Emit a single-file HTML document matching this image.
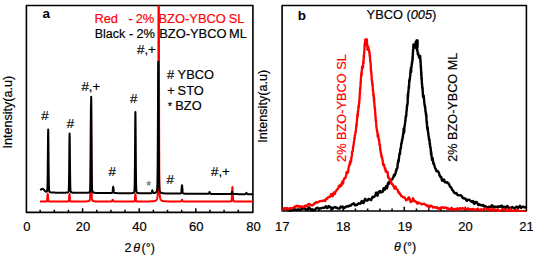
<!DOCTYPE html>
<html><head><meta charset="utf-8"><style>
html,body{margin:0;padding:0;background:#fff;width:533px;height:256px;overflow:hidden}
svg{display:block}
text{font-family:'Liberation Sans',sans-serif;stroke-width:0.18px}
</style></head><body>
<svg width="533" height="256" viewBox="0 0 533 256">
<rect width="533" height="256" fill="#fff"/>
<defs>
<clipPath id="ca"><rect x="26.4" y="5.5" width="226.6" height="207"/></clipPath>
<clipPath id="cb"><rect x="282.1" y="5.5" width="244.4" height="206.5"/></clipPath>
</defs>
<!-- Panel a -->
<path d="M40.15,212.4V209.80 M54.30,212.4V209.80 M68.45,212.4V209.80 M82.60,212.4V208.20 M96.75,212.4V209.80 M110.90,212.4V209.80 M125.05,212.4V209.80 M139.20,212.4V208.20 M153.35,212.4V209.80 M167.50,212.4V209.80 M181.65,212.4V209.80 M195.80,212.4V208.20 M209.95,212.4V209.80 M224.10,212.4V209.80 M238.25,212.4V209.80" stroke="#000" stroke-width="1.5" fill="none"/>
<rect x="26.4" y="5.5" width="226.5" height="206.9" fill="none" stroke="#000" stroke-width="1.6" stroke-linejoin="round"/>
<g clip-path="url(#ca)" fill="none" stroke-linejoin="round">
<polyline points="40.00,201.50 40.50,201.49 41.00,201.49 41.50,201.49 42.00,201.49 42.50,201.49 43.00,201.49 43.50,201.49 43.70,201.49 43.80,201.49 43.90,201.49 44.00,201.48 44.10,201.48 44.20,201.48 44.30,201.48 44.40,201.48 44.50,201.48 44.60,201.48 44.70,201.48 44.80,201.48 44.90,201.48 45.00,201.47 45.10,201.47 45.20,201.47 45.30,201.47 45.40,201.46 45.50,201.46 45.60,201.46 45.70,201.45 45.80,201.45 45.90,201.44 46.00,201.44 46.10,201.43 46.20,201.42 46.30,201.41 46.40,201.40 46.50,201.38 46.60,201.35 46.70,201.30 46.80,201.20 46.90,201.00 47.00,200.65 47.10,200.07 47.20,199.20 47.30,198.04 47.40,196.69 47.50,195.37 47.60,194.37 47.70,194.00 47.80,194.37 47.90,195.37 48.00,196.69 48.10,198.04 48.20,199.20 48.30,200.07 48.40,200.65 48.50,201.00 48.60,201.20 48.70,201.30 48.80,201.35 48.90,201.38 49.00,201.40 49.10,201.41 49.20,201.42 49.30,201.43 49.40,201.44 49.50,201.44 49.60,201.45 49.70,201.45 49.80,201.46 49.90,201.46 50.00,201.46 50.10,201.47 50.20,201.47 50.30,201.47 50.40,201.47 50.50,201.47 50.60,201.48 50.70,201.48 50.80,201.48 50.90,201.48 51.00,201.48 51.10,201.48 51.20,201.48 51.30,201.48 51.40,201.48 51.50,201.48 51.60,201.49 52.00,201.49 52.50,201.49 53.00,201.49 53.50,201.49 54.00,201.49 54.50,201.49 55.00,201.49 55.50,201.49 56.00,201.49 56.50,201.49 57.00,201.49 57.50,201.49 58.00,201.49 58.50,201.49 59.00,201.49 59.50,201.49 60.00,201.49 60.50,201.49 61.00,201.49 61.50,201.49 62.00,201.49 62.50,201.49 63.00,201.49 63.50,201.49 64.00,201.49 64.50,201.49 65.00,201.49 65.50,201.48 65.60,201.48 65.70,201.48 65.80,201.48 65.90,201.48 66.00,201.48 66.10,201.48 66.20,201.48 66.30,201.48 66.40,201.48 66.50,201.47 66.60,201.47 66.70,201.47 66.80,201.47 66.90,201.47 67.00,201.47 67.10,201.46 67.20,201.46 67.30,201.46 67.40,201.45 67.50,201.45 67.60,201.45 67.70,201.44 67.80,201.44 67.90,201.43 68.00,201.42 68.10,201.41 68.20,201.40 68.30,201.38 68.40,201.35 68.50,201.29 68.60,201.19 68.70,201.00 68.80,200.65 68.90,200.07 69.00,199.20 69.10,198.04 69.20,196.69 69.30,195.36 69.40,194.37 69.50,193.99 69.60,194.37 69.70,195.36 69.80,196.69 69.90,198.04 70.00,199.20 70.10,200.07 70.20,200.65 70.30,201.00 70.40,201.19 70.50,201.29 70.60,201.35 70.70,201.38 70.80,201.39 70.90,201.41 71.00,201.42 71.10,201.43 71.20,201.43 71.30,201.44 71.40,201.44 71.50,201.45 71.60,201.45 71.70,201.46 71.80,201.46 71.90,201.46 72.00,201.46 72.10,201.47 72.20,201.47 72.30,201.47 72.40,201.47 72.50,201.47 72.60,201.47 72.70,201.47 72.80,201.48 72.90,201.48 73.00,201.48 73.10,201.48 73.20,201.48 73.30,201.48 73.40,201.48 73.50,201.48 74.00,201.48 74.50,201.48 75.00,201.48 75.50,201.48 76.00,201.48 76.50,201.48 77.00,201.48 77.50,201.48 78.00,201.48 78.50,201.48 79.00,201.48 79.50,201.48 80.00,201.48 80.50,201.48 81.00,201.47 81.50,201.47 82.00,201.47 82.50,201.46 83.00,201.46 83.50,201.46 84.00,201.45 84.50,201.44 85.00,201.43 85.50,201.42 86.00,201.40 86.50,201.38 86.95,201.35 87.00,201.35 87.05,201.35 87.15,201.34 87.25,201.33 87.35,201.32 87.45,201.31 87.50,201.31 87.55,201.30 87.65,201.29 87.75,201.28 87.85,201.26 87.95,201.25 88.00,201.24 88.05,201.23 88.15,201.21 88.25,201.19 88.35,201.16 88.45,201.14 88.50,201.12 88.55,201.11 88.65,201.07 88.75,201.04 88.85,200.99 88.95,200.94 89.00,200.92 89.05,200.89 89.15,200.82 89.25,200.74 89.35,200.65 89.45,200.54 89.50,200.48 89.55,200.41 89.65,200.23 89.75,199.99 89.85,199.61 89.95,198.93 90.00,198.38 90.05,197.63 90.15,195.16 90.25,190.70 90.35,183.28 90.45,172.14 90.50,165.12 90.55,157.27 90.65,139.96 90.75,123.00 90.85,110.28 90.95,105.50 91.00,106.72 91.05,110.28 91.15,123.00 91.25,139.96 91.35,157.27 91.45,172.14 91.50,178.20 91.55,183.28 91.65,190.69 91.75,195.16 91.85,197.63 91.95,198.93 92.00,199.32 92.05,199.61 92.15,199.99 92.25,200.23 92.35,200.41 92.45,200.54 92.50,200.60 92.55,200.65 92.65,200.74 92.75,200.82 92.85,200.89 92.95,200.94 93.00,200.97 93.05,200.99 93.15,201.04 93.25,201.07 93.35,201.11 93.45,201.14 93.50,201.15 93.55,201.16 93.65,201.19 93.75,201.21 93.85,201.23 93.95,201.25 94.00,201.25 94.05,201.26 94.15,201.28 94.25,201.29 94.35,201.30 94.45,201.31 94.50,201.32 94.55,201.32 94.65,201.33 94.75,201.34 94.85,201.35 95.00,201.36 95.50,201.39 96.00,201.41 96.50,201.42 97.00,201.43 97.50,201.44 98.00,201.45 98.50,201.46 99.00,201.46 99.50,201.47 100.00,201.47 100.50,201.47 101.00,201.47 101.50,201.48 102.00,201.48 102.50,201.48 103.00,201.48 103.50,201.48 104.00,201.48 104.50,201.48 105.00,201.48 105.50,201.48 106.00,201.48 106.50,201.48 107.00,201.48 107.50,201.48 108.00,201.48 108.50,201.48 108.70,201.48 108.80,201.48 108.90,201.48 109.00,201.48 109.10,201.48 109.20,201.48 109.30,201.48 109.40,201.48 109.50,201.48 109.60,201.48 109.70,201.48 109.80,201.48 109.90,201.48 110.00,201.48 110.10,201.48 110.20,201.48 110.30,201.48 110.40,201.47 110.50,201.47 110.60,201.47 110.70,201.47 110.80,201.47 110.90,201.47 111.00,201.46 111.10,201.46 111.20,201.45 111.30,201.45 111.40,201.44 111.50,201.42 111.60,201.39 111.70,201.35 111.80,201.28 111.90,201.19 112.00,201.06 112.10,200.90 112.20,200.70 112.30,200.47 112.40,200.24 112.50,200.02 112.60,199.85 112.70,199.79 112.80,199.85 112.90,200.02 113.00,200.24 113.10,200.47 113.20,200.70 113.30,200.90 113.40,201.06 113.50,201.19 113.60,201.28 113.70,201.35 113.80,201.39 113.90,201.42 114.00,201.44 114.10,201.45 114.20,201.45 114.30,201.46 114.40,201.46 114.50,201.47 114.60,201.47 114.70,201.47 114.80,201.47 114.90,201.47 115.00,201.48 115.10,201.48 115.20,201.48 115.30,201.48 115.40,201.48 115.50,201.48 115.60,201.48 115.70,201.48 115.80,201.48 115.90,201.48 116.00,201.48 116.10,201.48 116.20,201.48 116.30,201.48 116.40,201.49 116.50,201.49 116.60,201.49 117.00,201.49 117.50,201.49 118.00,201.49 118.50,201.49 119.00,201.49 119.50,201.49 120.00,201.49 120.50,201.49 121.00,201.49 121.50,201.49 122.00,201.49 122.50,201.49 123.00,201.49 123.50,201.49 124.00,201.49 124.50,201.49 125.00,201.49 125.50,201.49 126.00,201.49 126.50,201.49 127.00,201.49 127.50,201.49 128.00,201.49 128.50,201.48 129.00,201.48 129.50,201.48 130.00,201.48 130.50,201.48 131.00,201.48 131.40,201.48 131.50,201.48 131.60,201.47 131.70,201.47 131.80,201.47 131.90,201.47 132.00,201.47 132.10,201.47 132.20,201.47 132.30,201.47 132.40,201.47 132.50,201.47 132.60,201.46 132.70,201.46 132.80,201.46 132.90,201.46 133.00,201.46 133.10,201.45 133.20,201.45 133.30,201.45 133.40,201.44 133.50,201.44 133.60,201.43 133.70,201.43 133.80,201.42 133.90,201.41 134.00,201.40 134.10,201.39 134.20,201.37 134.30,201.34 134.40,201.28 134.50,201.18 134.60,200.99 134.70,200.64 134.80,200.06 134.90,199.19 135.00,198.03 135.10,196.68 135.20,195.35 135.30,194.36 135.40,193.98 135.50,194.36 135.60,195.35 135.70,196.68 135.80,198.03 135.90,199.19 136.00,200.06 136.10,200.64 136.20,200.99 136.30,201.18 136.40,201.28 136.50,201.33 136.60,201.36 136.70,201.38 136.80,201.40 136.90,201.41 137.00,201.41 137.10,201.42 137.20,201.43 137.30,201.43 137.40,201.44 137.50,201.44 137.60,201.44 137.70,201.45 137.80,201.45 137.90,201.45 138.00,201.45 138.10,201.45 138.20,201.46 138.30,201.46 138.40,201.46 138.50,201.46 138.60,201.46 138.70,201.46 138.80,201.46 138.90,201.46 139.00,201.46 139.10,201.46 139.20,201.46 139.30,201.46 139.50,201.47 140.00,201.47 140.50,201.47 141.00,201.47 141.50,201.47 142.00,201.46 142.50,201.46 143.00,201.46 143.50,201.46 144.00,201.46 144.50,201.46 145.00,201.45 145.50,201.45 146.00,201.45 146.50,201.44 147.00,201.44 147.50,201.43 148.00,201.42 148.50,201.42 149.00,201.41 149.50,201.40 150.00,201.39 150.50,201.37 151.00,201.36 151.50,201.34 152.00,201.31 152.50,201.28 153.00,201.24 153.50,201.19 154.00,201.12 154.50,201.03 154.70,200.98 154.80,200.95 154.90,200.93 155.00,200.89 155.10,200.86 155.20,200.82 155.30,200.78 155.40,200.74 155.50,200.69 155.60,200.64 155.70,200.59 155.80,200.52 155.90,200.45 156.00,200.38 156.10,200.29 156.20,200.19 156.30,200.09 156.40,199.96 156.50,199.83 156.60,199.67 156.70,199.49 156.80,199.28 156.90,199.04 157.00,198.76 157.10,198.42 157.20,198.03 157.30,197.55 157.40,196.98 157.50,196.27 157.60,195.38 157.70,194.23 157.80,192.59 157.90,189.91 158.00,184.79 158.10,174.33 158.20,153.91 158.30,118.68 158.40,67.68 158.50,8.74 158.60,-40.53 158.70,-60.00 158.80,-40.53 158.90,8.74 159.00,67.68 159.10,118.68 159.20,153.91 159.30,174.33 159.40,184.79 159.50,189.91 159.60,192.59 159.70,194.23 159.80,195.38 159.90,196.27 160.00,196.98 160.10,197.55 160.20,198.03 160.30,198.42 160.40,198.76 160.50,199.04 160.60,199.28 160.70,199.49 160.80,199.67 160.90,199.83 161.00,199.96 161.10,200.09 161.20,200.19 161.30,200.29 161.40,200.38 161.50,200.45 161.60,200.52 161.70,200.59 161.80,200.64 161.90,200.69 162.00,200.74 162.10,200.78 162.20,200.82 162.30,200.86 162.40,200.89 162.50,200.93 162.60,200.95 163.00,201.05 163.50,201.14 164.00,201.20 164.50,201.25 165.00,201.29 165.50,201.32 166.00,201.34 166.50,201.36 167.00,201.38 167.50,201.39 168.00,201.40 168.50,201.41 169.00,201.42 169.50,201.43 170.00,201.43 170.50,201.44 171.00,201.44 171.50,201.45 172.00,201.45 172.50,201.45 173.00,201.46 173.50,201.46 174.00,201.46 174.50,201.46 175.00,201.47 175.50,201.47 176.00,201.47 176.50,201.47 177.00,201.47 177.50,201.47 178.00,201.47 178.10,201.47 178.20,201.47 178.30,201.47 178.40,201.47 178.50,201.47 178.60,201.47 178.70,201.47 178.80,201.47 178.90,201.47 179.00,201.47 179.10,201.47 179.20,201.47 179.30,201.47 179.40,201.47 179.50,201.47 179.60,201.47 179.70,201.47 179.80,201.46 179.90,201.46 180.00,201.46 180.10,201.46 180.20,201.46 180.30,201.45 180.40,201.45 180.50,201.45 180.60,201.44 180.70,201.43 180.80,201.41 180.90,201.38 181.00,201.34 181.10,201.27 181.20,201.18 181.30,201.05 181.40,200.89 181.50,200.69 181.60,200.47 181.70,200.23 181.80,200.01 181.90,199.85 182.00,199.78 182.10,199.85 182.20,200.01 182.30,200.23 182.40,200.47 182.50,200.69 182.60,200.89 182.70,201.05 182.80,201.18 182.90,201.28 183.00,201.34 183.10,201.38 183.20,201.41 183.30,201.43 183.40,201.44 183.50,201.45 183.60,201.45 183.70,201.46 183.80,201.46 183.90,201.46 184.00,201.47 184.10,201.47 184.20,201.47 184.30,201.47 184.40,201.47 184.50,201.47 184.60,201.48 184.70,201.48 184.80,201.48 184.90,201.48 185.00,201.48 185.10,201.48 185.20,201.48 185.30,201.48 185.40,201.48 185.50,201.48 185.60,201.48 185.70,201.48 185.80,201.48 185.90,201.48 186.00,201.48 186.50,201.48 187.00,201.49 187.50,201.49 188.00,201.49 188.50,201.49 189.00,201.49 189.50,201.49 190.00,201.49 190.50,201.49 191.00,201.49 191.50,201.49 192.00,201.49 192.50,201.49 193.00,201.49 193.50,201.49 194.00,201.49 194.50,201.49 195.00,201.49 195.50,201.49 196.00,201.49 196.50,201.49 197.00,201.49 197.50,201.49 198.00,201.49 198.50,201.49 199.00,201.49 199.50,201.49 200.00,201.49 200.50,201.49 201.00,201.49 201.50,201.49 202.00,201.49 202.50,201.49 203.00,201.49 203.50,201.49 204.00,201.49 204.50,201.50 205.00,201.50 205.50,201.50 206.00,201.50 206.50,201.50 207.00,201.50 207.50,201.50 208.00,201.50 208.50,201.50 209.00,201.50 209.50,201.50 210.00,201.50 210.50,201.50 211.00,201.50 211.50,201.50 212.00,201.50 212.50,201.50 213.00,201.50 213.50,201.50 214.00,201.50 214.50,201.50 215.00,201.50 215.50,201.50 216.00,201.50 216.50,201.50 217.00,201.50 217.50,201.50 218.00,201.50 218.50,201.50 219.00,201.49 219.50,201.49 220.00,201.49 220.50,201.49 221.00,201.49 221.50,201.49 222.00,201.49 222.50,201.49 223.00,201.49 223.50,201.49 224.00,201.49 224.50,201.49 225.00,201.49 225.50,201.49 226.00,201.49 226.50,201.48 227.00,201.48 227.50,201.48 228.00,201.47 228.40,201.47 228.50,201.47 228.60,201.47 228.70,201.46 228.80,201.46 228.90,201.46 229.00,201.46 229.10,201.46 229.20,201.45 229.30,201.45 229.40,201.45 229.50,201.44 229.60,201.44 229.70,201.44 229.80,201.43 229.90,201.43 230.00,201.42 230.10,201.41 230.20,201.41 230.30,201.40 230.40,201.39 230.50,201.38 230.60,201.36 230.70,201.35 230.80,201.33 230.90,201.31 231.00,201.28 231.10,201.24 231.20,201.17 231.30,201.07 231.40,200.89 231.50,200.57 231.60,200.03 231.70,199.17 231.80,197.88 231.90,196.14 232.00,193.98 232.10,191.62 232.20,189.38 232.30,187.72 232.40,187.10 232.50,187.72 232.60,189.38 232.70,191.62 232.80,193.98 232.90,196.14 233.00,197.88 233.10,199.17 233.20,200.03 233.30,200.57 233.40,200.89 233.50,201.07 233.60,201.17 233.70,201.24 233.80,201.28 233.90,201.31 234.00,201.33 234.10,201.35 234.20,201.36 234.30,201.38 234.40,201.39 234.50,201.40 234.60,201.41 234.70,201.41 234.80,201.42 234.90,201.43 235.00,201.43 235.10,201.44 235.20,201.44 235.30,201.44 235.40,201.45 235.50,201.45 235.60,201.45 235.70,201.46 235.80,201.46 235.90,201.46 236.00,201.46 236.10,201.47 236.20,201.47 236.30,201.47 236.50,201.47 237.00,201.48 237.50,201.48 238.00,201.48 238.50,201.49 239.00,201.49 239.50,201.49 240.00,201.49 240.50,201.49 241.00,201.49 241.50,201.49 242.00,201.49 242.50,201.49 243.00,201.49 243.50,201.49 244.00,201.50 244.50,201.50 245.00,201.50 245.50,201.50 246.00,201.50 246.50,201.50 247.00,201.50 247.50,201.50 248.00,201.50 248.50,201.50 249.00,201.50 249.50,201.50 250.00,201.50 250.50,201.50 251.00,201.50 251.50,201.50 252.00,201.50 252.50,201.50 253.00,201.50 253.50,201.50" stroke="#f00" stroke-width="2"/>
<polyline points="40.30,190.32 40.80,189.82 41.30,189.32 41.80,189.01 42.30,188.82 42.80,188.88 43.30,189.30 43.80,189.72 44.20,190.11 44.30,190.22 44.40,190.32 44.50,190.43 44.60,190.54 44.70,190.65 44.80,190.76 44.90,190.86 45.00,190.97 45.10,191.07 45.20,191.18 45.30,191.28 45.40,191.38 45.50,191.48 45.60,191.52 45.70,191.55 45.80,191.58 45.90,191.61 46.00,191.64 46.10,191.66 46.20,191.68 46.30,191.69 46.40,191.70 46.50,191.70 46.60,191.68 46.70,191.64 46.80,191.60 46.90,191.52 47.00,191.41 47.10,191.20 47.20,190.79 47.30,189.98 47.40,188.40 47.50,185.51 47.60,180.64 47.70,173.33 47.80,163.57 47.90,152.21 48.00,141.08 48.10,132.73 48.20,129.59 48.30,132.73 48.40,141.09 48.50,152.22 48.60,163.58 48.70,173.34 48.80,180.65 48.90,185.52 49.00,188.45 49.10,190.07 49.20,190.92 49.30,191.37 49.40,191.62 49.50,191.78 49.60,191.90 49.70,191.99 49.80,192.06 49.90,192.12 50.00,192.17 50.10,192.22 50.20,192.26 50.30,192.29 50.40,192.32 50.50,192.34 50.60,192.37 50.70,192.39 50.80,192.41 50.90,192.42 51.00,192.44 51.10,192.45 51.20,192.46 51.30,192.47 51.40,192.48 51.50,192.49 51.60,192.50 51.70,192.51 51.80,192.52 51.90,192.52 52.00,192.53 52.10,192.54 52.30,192.55 52.80,192.57 53.30,192.58 53.80,192.60 54.30,192.61 54.80,192.62 55.30,192.63 55.80,192.63 56.30,192.64 56.80,192.65 57.30,192.65 57.80,192.66 58.30,192.66 58.80,192.67 59.30,192.67 59.80,192.67 60.30,192.68 60.80,192.68 61.30,192.68 61.80,192.68 62.30,192.68 62.80,192.68 63.30,192.68 63.80,192.68 64.30,192.68 64.80,192.67 65.30,192.66 65.60,192.65 65.70,192.65 65.80,192.64 65.90,192.64 66.00,192.63 66.10,192.63 66.20,192.62 66.30,192.62 66.40,192.61 66.50,192.60 66.60,192.59 66.70,192.58 66.80,192.57 66.90,192.56 67.00,192.54 67.10,192.53 67.20,192.51 67.30,192.49 67.40,192.47 67.50,192.44 67.60,192.41 67.70,192.38 67.80,192.34 67.90,192.29 68.00,192.24 68.10,192.17 68.20,192.09 68.30,191.98 68.40,191.83 68.50,191.60 68.60,191.18 68.70,190.37 68.80,188.85 68.90,186.10 69.00,181.51 69.10,174.64 69.20,165.46 69.30,154.77 69.40,144.30 69.50,136.44 69.60,133.49 69.70,136.44 69.80,144.30 69.90,154.77 70.00,165.46 70.10,174.64 70.20,181.52 70.30,186.11 70.40,188.86 70.50,190.39 70.60,191.19 70.70,191.61 70.80,191.85 70.90,192.00 71.00,192.11 71.10,192.19 71.20,192.26 71.30,192.32 71.40,192.37 71.50,192.41 71.60,192.44 71.70,192.48 71.80,192.50 71.90,192.53 72.00,192.55 72.10,192.57 72.20,192.59 72.30,192.60 72.40,192.61 72.50,192.63 72.60,192.64 72.70,192.65 72.80,192.66 72.90,192.67 73.00,192.68 73.10,192.68 73.20,192.69 73.30,192.70 73.40,192.70 73.50,192.71 73.80,192.72 74.30,192.74 74.80,192.76 75.30,192.77 75.80,192.78 76.30,192.79 76.80,192.80 77.30,192.80 77.80,192.81 78.30,192.81 78.80,192.82 79.30,192.82 79.80,192.83 80.30,192.83 80.80,192.83 81.30,192.84 81.80,192.84 82.30,192.84 82.80,192.84 83.30,192.84 83.80,192.84 84.30,192.84 84.80,192.84 85.30,192.83 85.80,192.82 86.30,192.81 86.80,192.79 87.20,192.77 87.30,192.76 87.40,192.76 87.50,192.75 87.60,192.74 87.70,192.73 87.80,192.72 87.90,192.71 88.00,192.70 88.10,192.68 88.20,192.67 88.30,192.65 88.40,192.64 88.50,192.61 88.60,192.59 88.70,192.57 88.80,192.54 88.90,192.50 89.00,192.47 89.10,192.42 89.20,192.38 89.30,192.32 89.40,192.25 89.50,192.18 89.60,192.08 89.70,191.98 89.80,191.84 89.90,191.67 90.00,191.43 90.10,191.05 90.20,190.36 90.30,189.06 90.40,186.59 90.50,182.12 90.60,174.69 90.70,163.53 90.80,148.64 90.90,131.31 91.00,114.33 91.10,101.58 91.20,96.79 91.30,101.58 91.40,114.33 91.50,131.31 91.60,148.65 91.70,163.54 91.80,174.70 91.90,182.13 92.00,186.60 92.10,189.08 92.20,190.38 92.30,191.06 92.40,191.45 92.50,191.69 92.60,191.86 92.70,192.00 92.80,192.11 92.90,192.20 93.00,192.28 93.10,192.35 93.20,192.41 93.30,192.46 93.40,192.50 93.50,192.54 93.60,192.58 93.70,192.61 93.80,192.63 93.90,192.66 94.00,192.68 94.10,192.70 94.20,192.72 94.30,192.74 94.40,192.75 94.50,192.76 94.60,192.78 94.70,192.79 94.80,192.80 94.90,192.81 95.00,192.82 95.10,192.83 95.30,192.84 95.80,192.88 96.30,192.90 96.80,192.92 97.30,192.93 97.80,192.95 98.30,192.96 98.80,192.97 99.30,192.98 99.80,192.98 100.30,192.99 100.80,193.00 101.30,193.00 101.80,193.01 102.30,193.02 102.80,193.02 103.30,193.03 103.80,193.03 104.30,193.04 104.80,193.04 105.30,193.04 105.80,193.05 106.30,193.05 106.80,193.06 107.30,193.06 107.80,193.06 108.30,193.06 108.80,193.06 109.20,193.06 109.30,193.06 109.40,193.06 109.50,193.06 109.60,193.06 109.70,193.06 109.80,193.06 109.90,193.06 110.00,193.06 110.10,193.06 110.20,193.06 110.30,193.06 110.40,193.06 110.50,193.05 110.60,193.05 110.70,193.05 110.80,193.05 110.90,193.04 111.00,193.04 111.10,193.03 111.20,193.03 111.30,193.02 111.40,193.01 111.50,193.00 111.60,192.99 111.70,192.98 111.80,192.96 111.90,192.94 112.00,192.90 112.10,192.85 112.20,192.77 112.30,192.62 112.40,192.39 112.50,192.02 112.60,191.48 112.70,190.74 112.80,189.83 112.90,188.81 113.00,187.82 113.10,187.07 113.20,186.79 113.30,187.07 113.40,187.82 113.50,188.81 113.60,189.83 113.70,190.75 113.80,191.49 113.90,192.03 114.00,192.40 114.10,192.64 114.20,192.78 114.30,192.87 114.40,192.92 114.50,192.96 114.60,192.98 114.70,193.00 114.80,193.02 114.90,193.03 115.00,193.04 115.10,193.05 115.20,193.06 115.30,193.07 115.40,193.07 115.50,193.08 115.60,193.08 115.70,193.09 115.80,193.09 115.90,193.10 116.00,193.10 116.10,193.10 116.20,193.11 116.30,193.11 116.40,193.11 116.50,193.11 116.60,193.12 116.70,193.12 116.80,193.12 116.90,193.12 117.00,193.13 117.10,193.13 117.30,193.13 117.80,193.14 118.30,193.14 118.80,193.15 119.30,193.15 119.80,193.16 120.30,193.16 120.80,193.17 121.30,193.17 121.80,193.18 122.30,193.18 122.80,193.18 123.30,193.19 123.80,193.19 124.30,193.19 124.80,193.19 125.30,193.20 125.80,193.20 126.30,193.20 126.80,193.20 127.30,193.20 127.80,193.20 128.30,193.20 128.80,193.20 129.30,193.19 129.80,193.19 130.30,193.18 130.80,193.17 131.30,193.15 131.40,193.14 131.50,193.14 131.60,193.13 131.70,193.12 131.80,193.12 131.90,193.11 132.00,193.10 132.10,193.09 132.20,193.08 132.30,193.07 132.40,193.06 132.50,193.04 132.60,193.03 132.70,193.01 132.80,192.99 132.90,192.97 133.00,192.95 133.10,192.92 133.20,192.89 133.30,192.85 133.40,192.81 133.50,192.76 133.60,192.71 133.70,192.64 133.80,192.56 133.90,192.47 134.00,192.36 134.10,192.21 134.20,192.01 134.30,191.68 134.40,191.11 134.50,190.01 134.60,187.92 134.70,184.14 134.80,177.85 134.90,168.42 135.00,155.83 135.10,141.17 135.20,126.81 135.30,116.03 135.40,111.98 135.50,116.03 135.60,126.81 135.70,141.18 135.80,155.84 135.90,168.43 136.00,177.86 136.10,184.15 136.20,187.93 136.30,190.02 136.40,191.12 136.50,191.70 136.60,192.02 136.70,192.23 136.80,192.38 136.90,192.49 137.00,192.59 137.10,192.66 137.20,192.73 137.30,192.79 137.40,192.84 137.50,192.88 137.60,192.92 137.70,192.95 137.80,192.98 137.90,193.00 138.00,193.03 138.10,193.05 138.20,193.07 138.30,193.08 138.40,193.10 138.50,193.11 138.60,193.13 138.70,193.14 138.80,193.15 138.90,193.16 139.00,193.17 139.10,193.18 139.20,193.18 139.30,193.19 139.80,193.22 140.30,193.24 140.80,193.26 141.30,193.27 141.80,193.28 142.30,193.29 142.80,193.30 143.30,193.31 143.80,193.31 144.30,193.32 144.80,193.32 145.30,193.32 145.80,193.33 146.30,193.33 146.80,193.33 147.30,193.33 147.80,193.33 148.30,193.33 148.40,193.32 148.50,193.32 148.60,193.32 148.70,193.32 148.80,193.32 148.90,193.32 149.00,193.32 149.10,193.32 149.20,193.32 149.30,193.31 149.40,193.31 149.50,193.31 149.60,193.31 149.70,193.30 149.80,193.30 149.90,193.30 150.00,193.30 150.10,193.29 150.20,193.29 150.30,193.28 150.40,193.28 150.50,193.27 150.60,193.27 150.70,193.26 150.80,193.25 150.90,193.23 151.00,193.21 151.10,193.18 151.20,193.12 151.30,193.05 151.40,192.93 151.50,192.77 151.60,192.54 151.70,192.25 151.80,191.91 151.90,191.51 152.00,191.10 152.10,190.72 152.20,190.43 152.30,190.32 152.40,190.42 152.50,190.70 152.60,191.07 152.70,191.47 152.80,191.86 152.90,192.19 153.00,192.47 153.10,192.68 153.20,192.84 153.30,192.94 153.40,193.01 153.50,193.05 153.60,193.07 153.70,193.07 153.80,193.07 153.90,193.07 154.00,193.06 154.10,193.05 154.20,193.04 154.30,193.03 154.40,193.01 154.50,192.99 154.60,192.97 154.70,192.95 154.80,192.92 154.90,192.90 155.00,192.87 155.10,192.83 155.20,192.80 155.30,192.75 155.40,192.71 155.50,192.66 155.60,192.60 155.70,192.54 155.80,192.47 155.90,192.39 156.00,192.30 156.10,192.19 156.20,192.08 156.30,191.94 156.40,191.78 156.50,191.60 156.60,191.39 156.70,191.14 156.80,190.83 156.90,190.45 157.00,189.94 157.10,189.23 157.20,188.13 157.30,186.33 157.40,183.35 157.50,178.45 157.60,170.76 157.70,159.48 157.80,144.15 157.90,125.12 158.00,103.88 158.10,83.32 158.20,67.73 158.30,61.79 158.40,67.73 158.50,83.32 158.60,103.89 158.70,125.12 158.80,144.16 158.90,159.49 159.00,170.78 159.10,178.46 159.20,183.36 159.30,186.35 159.40,188.15 159.50,189.25 159.60,189.97 159.70,190.48 159.80,190.86 159.90,191.17 160.00,191.42 160.10,191.64 160.20,191.82 160.30,191.98 160.40,192.12 160.50,192.24 160.60,192.34 160.70,192.43 160.80,192.52 160.90,192.59 161.00,192.66 161.10,192.72 161.20,192.77 161.30,192.82 161.40,192.86 161.50,192.90 161.60,192.94 161.70,192.97 161.80,193.00 161.90,193.03 162.00,193.06 162.10,193.08 162.20,193.10 162.30,193.13 162.80,193.21 163.30,193.27 163.80,193.32 164.30,193.36 164.80,193.39 165.30,193.41 165.80,193.43 166.30,193.45 166.80,193.47 167.30,193.48 167.80,193.49 168.30,193.50 168.80,193.51 169.30,193.52 169.80,193.53 170.30,193.54 170.80,193.54 171.30,193.55 171.80,193.56 172.30,193.56 172.80,193.57 173.30,193.57 173.80,193.58 174.30,193.58 174.80,193.59 175.30,193.59 175.80,193.60 176.30,193.60 176.80,193.60 177.30,193.60 177.80,193.61 178.00,193.60 178.10,193.60 178.20,193.60 178.30,193.60 178.40,193.60 178.50,193.60 178.60,193.60 178.70,193.60 178.80,193.60 178.90,193.60 179.00,193.60 179.10,193.59 179.20,193.59 179.30,193.59 179.40,193.58 179.50,193.58 179.60,193.58 179.70,193.57 179.80,193.57 179.90,193.56 180.00,193.55 180.10,193.54 180.20,193.53 180.30,193.52 180.40,193.50 180.50,193.48 180.60,193.46 180.70,193.42 180.80,193.35 180.90,193.26 181.00,193.10 181.10,192.84 181.20,192.45 181.30,191.88 181.40,191.10 181.50,190.11 181.60,188.95 181.70,187.70 181.80,186.51 181.90,185.62 182.00,185.29 182.10,185.63 182.20,186.52 182.30,187.70 182.40,188.96 182.50,190.12 182.60,191.11 182.70,191.89 182.80,192.46 182.90,192.86 183.00,193.11 183.10,193.28 183.20,193.38 183.30,193.44 183.40,193.48 183.50,193.51 183.60,193.53 183.70,193.55 183.80,193.56 183.90,193.58 184.00,193.59 184.10,193.60 184.20,193.61 184.30,193.61 184.40,193.62 184.50,193.63 184.60,193.63 184.70,193.64 184.80,193.64 184.90,193.65 185.00,193.65 185.10,193.65 185.20,193.66 185.30,193.66 185.40,193.66 185.50,193.67 185.60,193.67 185.70,193.67 185.80,193.67 185.90,193.68 186.30,193.68 186.80,193.69 187.30,193.70 187.80,193.71 188.30,193.71 188.80,193.72 189.30,193.72 189.80,193.73 190.30,193.73 190.80,193.74 191.30,193.74 191.80,193.75 192.30,193.75 192.80,193.76 193.30,193.76 193.80,193.76 194.30,193.77 194.80,193.77 195.30,193.78 195.80,193.78 196.30,193.79 196.80,193.79 197.30,193.79 197.80,193.80 198.30,193.80 198.80,193.81 199.30,193.81 199.80,193.82 200.30,193.82 200.80,193.82 201.30,193.83 201.80,193.83 202.30,193.84 202.80,193.84 203.30,193.84 203.80,193.85 204.30,193.85 204.80,193.85 205.30,193.86 205.50,193.86 205.60,193.86 205.70,193.86 205.80,193.86 205.90,193.86 206.00,193.86 206.10,193.86 206.20,193.86 206.30,193.86 206.40,193.86 206.50,193.86 206.60,193.86 206.70,193.86 206.80,193.86 206.90,193.86 207.00,193.86 207.10,193.86 207.20,193.86 207.30,193.86 207.40,193.86 207.50,193.86 207.60,193.86 207.70,193.85 207.80,193.85 207.90,193.85 208.00,193.84 208.10,193.84 208.20,193.82 208.30,193.80 208.40,193.77 208.50,193.73 208.60,193.65 208.70,193.55 208.80,193.41 208.90,193.23 209.00,193.01 209.10,192.76 209.20,192.49 209.30,192.25 209.40,192.07 209.50,192.00 209.60,192.07 209.70,192.25 209.80,192.50 209.90,192.76 210.00,193.01 210.10,193.24 210.20,193.42 210.30,193.56 210.40,193.67 210.50,193.74 210.60,193.79 210.70,193.82 210.80,193.85 210.90,193.86 211.00,193.87 211.10,193.87 211.20,193.88 211.30,193.88 211.40,193.89 211.50,193.89 211.60,193.89 211.70,193.90 211.80,193.90 211.90,193.90 212.00,193.90 212.10,193.90 212.20,193.91 212.30,193.91 212.40,193.91 212.50,193.91 212.60,193.91 212.70,193.91 212.80,193.91 212.90,193.92 213.00,193.92 213.10,193.92 213.20,193.92 213.30,193.92 213.40,193.92 213.80,193.93 214.30,193.93 214.80,193.94 215.30,193.94 215.80,193.94 216.30,193.95 216.80,193.95 217.30,193.96 217.80,193.96 218.30,193.97 218.80,193.97 219.30,193.97 219.80,193.98 220.30,193.98 220.80,193.99 221.30,193.99 221.80,193.99 222.30,194.00 222.80,194.00 223.30,194.01 223.80,194.01 224.30,194.01 224.80,194.02 225.30,194.02 225.80,194.03 226.30,194.03 226.80,194.03 227.30,194.04 227.80,194.04 228.00,194.04 228.10,194.04 228.20,194.04 228.30,194.04 228.40,194.04 228.50,194.04 228.60,194.04 228.70,194.04 228.80,194.04 228.90,194.04 229.00,194.04 229.10,194.04 229.20,194.04 229.30,194.04 229.40,194.04 229.50,194.04 229.60,194.04 229.70,194.04 229.80,194.04 229.90,194.04 230.00,194.04 230.10,194.04 230.20,194.03 230.30,194.03 230.40,194.03 230.50,194.02 230.60,194.01 230.70,194.00 230.80,193.98 230.90,193.95 231.00,193.89 231.10,193.81 231.20,193.70 231.30,193.55 231.40,193.35 231.50,193.10 231.60,192.83 231.70,192.54 231.80,192.27 231.90,192.07 232.00,192.00 232.10,192.08 232.20,192.28 232.30,192.55 232.40,192.84 232.50,193.11 232.60,193.35 232.70,193.56 232.80,193.71 232.90,193.83 233.00,193.91 233.10,193.96 233.20,194.00 233.30,194.02 233.40,194.04 233.50,194.05 233.60,194.05 233.70,194.06 233.80,194.06 233.90,194.07 234.00,194.07 234.10,194.07 234.20,194.08 234.30,194.08 234.40,194.08 234.50,194.08 234.60,194.08 234.70,194.09 234.80,194.09 234.90,194.09 235.00,194.09 235.10,194.09 235.20,194.09 235.30,194.10 235.40,194.10 235.50,194.10 235.60,194.10 235.70,194.10 235.80,194.10 235.90,194.10 236.30,194.11 236.80,194.11 237.30,194.12 237.80,194.12 238.30,194.13 238.80,194.13 239.30,194.13 239.80,194.14 240.30,194.14 240.80,194.15 241.30,194.15 241.80,194.15 242.30,194.16 242.40,194.16 242.50,194.16 242.60,194.16 242.70,194.16 242.80,194.16 242.90,194.16 243.00,194.16 243.10,194.16 243.20,194.16 243.30,194.16 243.40,194.16 243.50,194.16 243.60,194.16 243.70,194.16 243.80,194.16 243.90,194.16 244.00,194.16 244.10,194.16 244.20,194.16 244.30,194.16 244.40,194.16 244.50,194.16 244.60,194.16 244.70,194.16 244.80,194.15 244.90,194.15 245.00,194.15 245.10,194.14 245.20,194.12 245.30,194.10 245.40,194.07 245.50,194.01 245.60,193.94 245.70,193.83 245.80,193.70 245.90,193.54 246.00,193.35 246.10,193.16 246.20,192.98 246.30,192.85 246.40,192.80 246.50,192.85 246.60,192.99 246.70,193.17 246.80,193.36 246.90,193.55 247.00,193.71 247.10,193.85 247.20,193.95 247.30,194.03 247.40,194.08 247.50,194.12 247.60,194.14 247.70,194.16 247.80,194.17 247.90,194.18 248.00,194.18 248.10,194.18 248.20,194.19 248.30,194.19 248.40,194.19 248.50,194.20 248.60,194.20 248.70,194.20 248.80,194.20 248.90,194.20 249.00,194.20 249.10,194.21 249.20,194.21 249.30,194.21 249.40,194.21 249.50,194.21 249.60,194.21 249.70,194.21 249.80,194.22 249.90,194.22 250.00,194.22 250.10,194.22 250.20,194.22 250.30,194.22 250.80,194.23 251.30,194.23 251.80,194.23 252.30,194.24 252.80,194.24 253.30,194.25 253.80,194.25" stroke="#000" stroke-width="2"/>
</g>
<text x="42.6" y="18.3" font-size="13.5" font-weight="bold">a</text>
<g font-size="12.8">
<g fill="#f00" stroke="#f00" font-size="12.9">
<text x="94.4" y="22.8">Red</text>
<text x="128.5" y="22.8">-</text>
<text x="135.7" y="22.8">2%</text>
<text x="158.5" y="22.8">BZO-YBCO</text>
<text x="228.7" y="22.8">SL</text>
</g>
<g fill="#000" stroke="#000">
<text x="94.7" y="38" font-size="12.5">Black</text>
<text x="128.9" y="38">-</text>
<text x="136.5" y="38">2%</text>
<text x="159.2" y="38" font-size="12.9">BZO-YBCO</text>
<text x="229.1" y="38">ML</text>
<text x="137" y="53.6" font-size="13.3">#,+</text>
<text x="167" y="78.8">#</text><text x="177.6" y="78.8">YBCO</text>
<text x="167.3" y="94.5">+</text><text x="177.6" y="94.5">STO</text>
<text x="167.8" y="110.1" font-size="11">*</text><text x="175.3" y="110.1">BZO</text>
<g font-size="13.3">
<text x="41.2" y="119.7">#</text>
<text x="66.8" y="127.6">#</text>
<text x="81.4" y="90.9">#,+</text>
<text x="130.1" y="102.6">#</text>
<text x="108.5" y="175.5">#</text>
<text x="166.6" y="184.3">#</text>
<text x="211.0" y="175.7">#,+</text>
</g>
</g>
</g>
<text x="146.2" y="190" font-size="12.5" fill="#666" stroke="#666">*</text>
<g font-size="13" text-anchor="middle" stroke="#000" stroke-width="0.15">
<text x="26.9" y="231.0">0</text>
<text x="83.0" y="231.0">20</text>
<text x="139.6" y="231.0">40</text>
<text x="196.2" y="231.0">60</text>
<text x="253.5" y="231.0">80</text>
</g>
<g font-size="12.5" stroke="#000"><text x="124.4" y="251.6">2</text><text x="133.3" y="251.6" font-style="italic" stroke-width="0.1">θ</text><text x="141.6" y="251.6">(°)</text></g>
<text transform="translate(11.7,148.6) rotate(-90)" font-size="12.6" stroke="#000" stroke-width="0.12">Intensity(a.u)</text>

<!-- Panel b -->
<path d="M294.32,211.0V208.40 M306.54,211.0V208.40 M318.76,211.0V208.40 M330.98,211.0V208.40 M343.20,211.0V206.80 M355.42,211.0V208.40 M367.64,211.0V208.40 M379.86,211.0V208.40 M392.08,211.0V208.40 M404.30,211.0V206.80 M416.52,211.0V208.40 M428.74,211.0V208.40 M440.96,211.0V208.40 M453.18,211.0V208.40 M465.40,211.0V206.80 M477.62,211.0V208.40 M489.84,211.0V208.40 M502.06,211.0V208.40 M514.28,211.0V208.40" stroke="#000" stroke-width="1.5" fill="none"/>
<rect x="282.1" y="5.5" width="244.3" height="205.5" fill="none" stroke="#000" stroke-width="1.6" stroke-linejoin="round"/>
<g clip-path="url(#cb)" fill="none" stroke-linejoin="round">
<polyline points="282.00,209.71 282.60,209.64 283.20,210.17 283.80,209.61 284.40,208.82 285.00,208.82 285.60,208.55 286.20,208.77 286.80,209.26 287.39,209.55 287.99,209.67 288.59,209.26 289.19,209.58 289.79,210.46 290.39,210.87 290.99,210.61 291.59,210.00 292.19,209.65 292.79,209.84 293.39,209.94 293.99,209.58 294.59,209.53 295.19,209.59 295.79,209.43 296.39,209.89 296.99,210.29 297.58,209.62 298.18,209.33 298.78,209.66 299.38,209.79 299.98,209.76 300.58,209.83 301.18,209.41 301.78,208.57 302.38,208.34 302.98,208.46 303.58,208.51 304.18,208.16 304.78,208.10 305.38,209.07 305.98,209.90 306.58,209.74 307.18,209.64 307.77,209.50 308.37,208.09 308.97,207.20 309.57,207.85 310.17,208.84 310.77,210.01 311.37,209.94 311.97,209.26 312.57,210.19 313.17,210.53 313.77,209.67 314.37,209.76 314.97,210.12 315.57,209.15 316.17,208.28 316.77,208.00 317.36,207.81 317.96,208.25 318.56,208.56 319.16,208.63 319.76,208.33 320.36,208.17 320.96,208.44 321.56,208.30 322.16,207.97 322.76,207.62 323.36,207.67 323.96,207.78 324.57,207.71 325.17,207.06 325.77,206.22 326.37,206.74 326.97,207.93 327.57,207.97 328.18,206.64 328.78,205.96 329.38,206.70 329.98,207.33 330.58,207.20 331.18,207.44 331.78,208.41 332.38,208.90 332.98,208.25 333.58,207.43 334.18,207.43 334.78,207.16 335.38,206.99 335.97,207.75 336.57,207.76 337.17,207.71 337.76,208.46 338.36,208.63 338.95,208.55 339.54,208.59 340.14,207.73 340.73,206.55 341.31,206.82 341.90,207.30 342.49,206.76 343.07,206.69 343.66,207.36 344.24,207.94 344.83,207.91 345.41,207.12 346.00,206.50 346.59,206.60 347.17,206.36 347.76,206.16 348.35,206.54 348.95,205.98 349.54,205.46 350.13,205.79 350.73,205.65 351.32,204.95 351.92,204.25 352.51,204.16 353.11,203.96 353.70,203.24 354.30,203.86 354.89,205.36 355.48,205.22 356.07,204.90 356.67,205.10 357.26,204.67 357.85,203.95 358.44,203.32 359.02,203.39 359.60,203.67 360.18,203.82 360.75,203.22 361.32,201.72 361.88,200.95 362.45,201.72 363.01,202.86 363.56,203.00 364.12,201.82 364.67,199.69 365.22,198.87 365.77,199.91 366.32,200.49 366.87,200.48 367.42,200.61 367.96,199.97 368.50,198.92 369.04,198.86 369.56,199.37 370.08,199.34 370.59,199.72 371.09,200.11 371.58,198.95 372.07,197.57 372.56,196.78 373.04,196.79 373.52,197.31 374.01,197.04 374.50,196.38 374.99,196.06 375.49,194.98 376.00,192.61 376.52,192.60 377.03,195.33 377.55,195.66 378.06,193.52 378.57,191.80 379.07,192.17 379.56,192.42 380.04,190.87 380.52,191.25 380.99,192.42 381.46,192.18 381.93,191.65 382.39,191.78 382.84,191.66 383.29,189.49 383.73,188.15 384.16,189.29 384.58,189.81 385.00,189.11 385.40,188.35 385.79,186.86 386.18,186.29 386.56,187.64 386.94,188.30 387.31,187.10 387.67,184.79 388.03,182.96 388.39,182.55 388.75,183.12 389.10,183.61 389.45,182.62 389.81,181.20 390.16,181.17 390.52,181.23 390.89,180.69 391.26,180.07 391.64,179.72 392.01,179.62 392.38,179.13 392.74,178.16 393.10,177.40 393.44,177.21 393.77,175.92 394.09,174.63 394.39,175.12 394.67,175.55 394.93,175.25 395.16,174.33 395.38,173.51 395.59,173.13 395.78,172.32 395.96,170.71 396.13,170.35 396.28,170.82 396.43,169.41 396.58,168.85 396.72,169.52 396.85,169.21 396.98,168.75 397.11,168.63 397.23,168.14 397.35,168.06 397.46,167.62 397.58,165.31 397.69,163.85 397.80,163.20 397.91,162.56 398.03,163.12 398.14,162.97 398.25,161.00 398.36,160.08 398.48,160.67 398.59,161.18 398.71,161.35 398.82,160.22 398.94,158.27 399.05,157.07 399.17,156.55 399.28,155.32 399.39,154.11 399.50,154.13 399.61,153.96 399.72,153.15 399.83,153.31 399.94,154.10 400.05,153.68 400.16,152.16 400.27,150.09 400.38,148.76 400.49,148.89 400.59,148.85 400.70,148.03 400.81,147.84 400.91,148.07 401.02,146.81 401.13,144.99 401.23,144.22 401.34,144.06 401.45,143.51 401.55,142.51 401.66,142.62 401.76,142.99 401.87,141.75 401.97,140.11 402.08,139.70 402.18,140.11 402.29,140.37 402.39,139.82 402.50,137.92 402.60,137.05 402.70,137.96 402.80,137.65 402.91,136.59 403.01,135.31 403.11,133.74 403.21,133.46 403.31,134.13 403.41,134.10 403.51,131.42 403.61,128.69 403.71,129.62 403.80,131.43 403.90,131.76 404.00,131.92 404.09,132.25 404.19,131.46 404.29,130.08 404.39,127.93 404.49,125.97 404.58,126.30 404.68,126.00 404.78,124.73 404.88,124.60 404.97,123.95 405.07,122.58 405.16,121.82 405.26,121.50 405.35,121.00 405.44,120.48 405.53,119.30 405.62,117.56 405.70,116.67 405.79,116.09 405.87,116.49 405.95,117.24 406.03,116.58 406.11,115.70 406.18,115.97 406.25,115.63 406.32,114.10 406.39,112.96 406.46,111.48 406.52,111.04 406.59,111.10 406.65,110.33 406.71,110.55 406.77,110.05 406.83,108.33 406.89,107.74 406.95,106.61 407.00,105.16 407.06,105.24 407.11,106.00 407.17,106.14 407.22,105.69 407.28,105.45 407.33,105.15 407.38,105.23 407.44,104.42 407.49,103.20 407.54,102.97 407.59,102.91 407.64,103.06 407.70,101.99 407.75,98.94 407.80,95.59 407.85,94.23 407.91,95.86 407.96,97.44 408.01,96.91 408.07,95.60 408.12,94.22 408.18,93.27 408.23,93.24 408.29,92.41 408.35,91.21 408.41,90.95 408.47,90.05 408.53,89.41 408.59,89.14 408.65,88.21 408.72,86.98 408.78,86.40 408.84,86.26 408.91,87.13 408.97,88.31 409.03,86.42 409.10,84.09 409.16,83.20 409.23,81.36 409.29,80.18 409.36,81.49 409.42,81.71 409.49,80.28 409.55,79.67 409.62,79.21 409.69,79.43 409.76,79.96 409.82,79.69 409.89,78.49 409.96,77.49 410.03,77.28 410.10,76.53 410.17,76.27 410.25,75.95 410.32,73.92 410.39,72.74 410.47,72.73 410.54,71.41 410.61,70.00 410.69,70.36 410.77,71.22 410.85,69.45 410.92,67.65 411.01,69.92 411.10,72.28 411.19,70.82 411.28,67.83 411.38,66.89 411.48,67.34 411.58,66.93 411.68,64.98 411.78,63.69 411.88,64.44 411.97,63.64 412.06,61.35 412.15,61.09 412.23,61.59 412.30,61.34 412.37,61.33 412.42,61.19 412.48,60.09 412.52,57.93 412.56,56.68 412.60,58.03 412.63,59.73 412.67,59.09 412.70,56.56 412.73,55.66 412.77,56.72 412.81,56.33 412.85,54.71 412.90,53.08 412.95,51.79 413.02,51.08 413.09,49.97 413.16,49.21 413.25,48.65 413.35,46.56 413.46,44.47 413.59,44.98 413.73,46.22 413.88,45.80 414.05,45.40 414.25,46.25 414.59,47.69 414.95,47.64 415.17,46.20 415.35,45.51 415.50,44.56 415.65,42.62 415.79,41.72 415.93,41.93 416.06,42.98 416.19,44.12 416.34,42.62 416.54,40.54 416.90,40.94 417.17,41.68 417.36,40.62 417.51,40.27 417.59,41.15 417.60,42.20 417.59,43.92 417.57,44.43 417.55,43.60 417.51,45.30 417.48,47.35 417.44,46.65 417.40,46.01 417.31,45.01 417.19,44.67 417.05,47.87 416.94,50.40 416.90,49.06 417.07,48.31 417.41,50.35 417.64,52.41 417.77,53.88 417.86,54.24 417.95,53.85 418.06,53.28 418.23,53.37 418.57,55.36 419.00,56.92 419.32,57.89 419.58,58.16 419.81,57.28 419.98,56.84 420.09,56.02 420.18,55.96 420.27,58.20 420.34,59.51 420.40,59.89 420.46,61.46 420.51,62.58 420.56,62.55 420.60,61.44 420.65,61.67 420.69,64.44 420.72,65.86 420.76,65.40 420.79,65.34 420.82,66.00 420.85,66.63 420.88,66.07 420.91,66.36 420.94,67.95 420.98,68.22 421.02,68.86 421.06,70.44 421.09,70.65 421.13,71.05 421.17,73.40 421.22,75.00 421.26,75.69 421.30,75.77 421.34,73.13 421.38,71.96 421.43,75.58 421.47,79.04 421.51,79.08 421.56,78.01 421.60,78.38 421.65,78.50 421.69,77.66 421.74,78.38 421.79,80.82 421.84,82.62 421.89,83.20 421.94,84.15 421.99,83.36 422.04,83.41 422.09,85.56 422.14,85.68 422.20,86.85 422.25,88.26 422.31,86.69 422.36,86.56 422.42,88.68 422.48,88.76 422.54,87.56 422.60,87.99 422.66,90.11 422.73,91.83 422.79,92.32 422.86,93.77 422.94,95.70 423.01,96.50 423.09,96.96 423.17,95.94 423.25,94.94 423.33,96.54 423.42,97.44 423.50,96.60 423.59,95.70 423.68,95.52 423.77,96.92 423.85,98.29 423.95,98.44 424.04,98.92 424.13,100.56 424.22,102.09 424.31,102.43 424.40,103.44 424.49,104.77 424.58,104.90 424.67,104.75 424.76,104.83 424.85,105.88 424.93,107.00 425.02,107.22 425.10,106.90 425.19,106.97 425.27,107.93 425.35,109.49 425.42,111.45 425.50,111.61 425.58,110.94 425.65,111.76 425.72,112.63 425.79,113.14 425.87,112.77 425.94,113.15 426.01,115.46 426.08,115.90 426.14,114.20 426.21,113.98 426.28,115.28 426.35,116.31 426.42,117.89 426.49,120.29 426.55,121.31 426.62,121.37 426.69,122.67 426.76,123.12 426.83,121.43 426.89,121.27 426.96,123.62 427.03,126.06 427.10,127.79 427.18,128.02 427.25,127.97 427.32,127.80 427.39,126.77 427.47,127.02 427.54,128.74 427.62,130.49 427.70,129.17 427.78,127.84 427.86,129.86 427.94,131.21 428.03,131.72 428.11,132.27 428.20,133.14 428.29,134.25 428.38,134.06 428.47,134.47 428.56,136.28 428.65,136.84 428.75,136.91 428.84,137.40 428.93,138.31 429.03,139.81 429.12,140.05 429.22,139.98 429.31,140.03 429.41,139.31 429.50,139.73 429.59,141.56 429.69,143.39 429.78,144.55 429.87,144.06 429.96,143.56 430.05,145.08 430.14,146.77 430.23,147.36 430.31,146.70 430.39,146.65 430.47,147.86 430.54,148.41 430.62,148.35 430.69,148.66 430.77,149.70 430.85,150.80 430.92,152.70 431.00,154.48 431.08,153.79 431.16,152.11 431.24,151.89 431.33,153.34 431.42,155.20 431.52,156.10 431.62,156.45 431.72,157.21 431.83,158.13 431.95,159.35 432.07,160.11 432.20,159.72 432.35,158.85 432.50,157.97 432.66,158.39 432.84,159.55 433.02,160.59 433.21,162.53 433.40,163.78 433.61,163.41 433.81,163.28 434.03,164.08 434.25,164.89 434.48,165.55 434.71,166.59 434.94,167.46 435.18,168.16 435.44,168.75 435.71,168.88 435.99,169.87 436.28,171.04 436.59,171.07 436.90,171.22 437.23,171.24 437.55,171.00 437.89,171.14 438.22,171.69 438.56,172.48 438.90,172.89 439.24,173.97 439.58,175.35 439.91,175.93 440.24,176.56 440.57,177.11 440.91,177.14 441.24,176.98 441.58,178.51 441.93,180.60 442.28,180.70 442.63,180.27 443.00,180.44 443.37,180.28 443.76,179.48 444.17,179.87 444.59,181.61 445.02,182.36 445.45,182.03 445.89,182.06 446.33,182.50 446.77,182.58 447.20,182.18 447.63,182.56 448.04,183.32 448.44,183.29 448.83,183.82 449.22,184.67 449.60,185.46 449.98,186.50 450.36,187.08 450.74,187.21 451.12,187.20 451.50,188.00 451.88,189.46 452.27,189.97 452.67,190.04 453.07,190.74 453.47,191.35 453.88,192.24 454.29,192.99 454.72,192.76 455.16,193.02 455.62,193.47 456.08,193.01 456.56,193.14 457.04,194.36 457.53,195.00 458.03,195.02 458.53,195.26 459.04,195.24 459.54,195.33 460.05,195.41 460.56,195.28 461.07,195.59 461.59,195.88 462.12,196.86 462.65,197.97 463.18,197.85 463.72,197.98 464.25,198.59 464.80,198.59 465.34,198.46 465.90,199.32 466.45,200.58 467.02,200.79 467.58,199.98 468.15,199.59 468.72,199.80 469.28,199.93 469.84,200.16 470.39,200.96 470.94,201.51 471.49,201.30 472.04,202.16 472.58,202.23 473.13,201.11 473.68,202.09 474.23,203.89 474.78,203.53 475.34,202.14 475.90,201.96 476.46,202.17 477.03,202.39 477.60,203.72 478.17,205.12 478.74,204.87 479.31,204.21 479.89,204.51 480.47,205.29 481.05,205.26 481.63,205.15 482.21,205.49 482.80,205.01 483.39,205.07 483.98,206.32 484.57,206.79 485.16,206.16 485.75,206.30 486.35,207.00 486.94,207.11 487.54,207.24 488.14,207.15 488.73,206.79 489.33,206.92 489.93,206.97 490.53,207.02 491.13,206.65 491.73,205.27 492.33,205.60 492.93,207.15 493.53,206.95 494.13,206.31 494.73,206.88 495.33,207.17 495.93,206.81 496.53,206.88 497.13,206.77 497.73,206.54 498.33,206.97 498.93,207.06 499.52,206.29 500.12,206.42 500.72,206.74 501.32,205.79 501.92,205.68 502.52,206.76 503.12,207.06 503.72,206.91 504.32,206.73 504.92,207.36 505.52,208.26 506.12,207.24 506.72,206.09 507.32,206.00 507.92,206.96 508.51,208.04 509.11,207.92 509.71,207.51 510.31,207.77 510.91,208.38 511.51,207.66 512.11,206.93 512.71,207.42 513.31,207.66 513.91,207.79 514.51,207.86 515.11,207.77 515.71,207.43 516.31,206.58 516.91,206.67 517.51,207.68 518.10,207.90 518.70,207.60 519.30,206.81 519.90,205.86 520.50,206.67 521.10,207.88 521.70,207.50 522.30,206.76 522.90,206.51 523.50,206.81 524.10,207.25 524.70,207.44 525.30,207.41 525.90,207.13 526.50,207.19" stroke="#000" stroke-width="2.4"/>
<polyline points="282.00,209.22 282.60,209.93 283.20,209.70 283.80,208.67 284.40,208.18 285.00,208.39 285.60,208.74 286.19,208.89 286.79,208.36 287.39,208.02 287.99,208.74 288.59,208.95 289.18,208.61 289.78,208.23 290.38,208.03 290.97,208.52 291.57,208.62 292.17,208.06 292.76,207.97 293.36,207.96 293.95,206.99 294.55,206.63 295.14,207.20 295.74,206.66 296.33,205.81 296.93,206.13 297.52,206.37 298.12,205.84 298.71,205.81 299.30,206.85 299.89,207.42 300.49,206.72 301.08,206.31 301.67,206.87 302.27,207.02 302.86,206.65 303.46,206.92 304.05,207.01 304.64,206.07 305.23,205.55 305.83,205.95 306.42,206.42 307.00,206.05 307.59,204.87 308.18,204.31 308.76,203.98 309.34,203.80 309.92,204.71 310.49,205.02 311.06,204.85 311.63,205.47 312.20,205.55 312.77,204.97 313.33,204.74 313.89,204.07 314.46,203.16 315.02,203.47 315.57,203.09 316.13,201.98 316.69,202.17 317.25,202.60 317.81,202.46 318.37,201.90 318.93,201.67 319.49,201.42 320.05,201.00 320.61,201.15 321.18,201.18 321.75,200.80 322.32,200.66 322.89,201.05 323.45,200.80 324.00,200.15 324.55,200.43 325.09,201.09 325.62,200.24 326.15,198.64 326.67,198.74 327.19,198.81 327.70,197.62 328.21,197.24 328.71,197.30 329.20,196.61 329.69,196.94 330.18,196.74 330.66,195.02 331.15,194.18 331.63,194.12 332.11,194.99 332.59,196.30 333.06,195.37 333.53,192.81 333.98,192.36 334.43,193.68 334.87,193.97 335.29,192.58 335.70,191.24 336.09,191.03 336.47,190.66 336.82,189.72 337.17,189.18 337.50,189.30 337.84,189.01 338.18,188.12 338.53,186.96 338.88,185.91 339.24,186.29 339.60,186.90 339.97,185.50 340.33,184.59 340.69,185.47 341.04,186.07 341.39,185.71 341.73,184.02 342.06,181.90 342.40,181.51 342.73,183.32 343.06,183.57 343.38,180.92 343.69,179.68 343.99,179.66 344.28,178.71 344.55,178.02 344.82,177.87 345.08,178.11 345.34,178.09 345.60,177.41 345.85,176.61 346.10,175.63 346.34,174.13 346.58,172.12 346.81,172.04 347.03,173.05 347.25,172.76 347.46,172.58 347.67,172.80 347.87,172.67 348.06,172.09 348.25,171.01 348.43,169.33 348.60,167.77 348.77,167.02 348.94,166.36 349.10,165.58 349.26,165.42 349.41,165.62 349.57,165.28 349.71,163.65 349.86,162.24 350.00,162.70 350.14,163.54 350.28,163.62 350.41,162.43 350.54,160.52 350.68,160.53 350.80,161.76 350.93,161.75 351.06,161.70 351.18,160.55 351.30,158.02 351.42,157.23 351.53,157.28 351.64,156.81 351.76,156.10 351.87,155.19 351.98,153.67 352.08,152.16 352.19,151.75 352.29,151.63 352.40,151.30 352.50,151.05 352.60,151.27 352.71,151.12 352.81,150.17 352.91,149.25 353.01,148.21 353.11,147.15 353.21,146.42 353.31,146.06 353.41,145.95 353.51,145.69 353.60,144.56 353.70,143.49 353.80,143.30 353.89,142.22 353.99,141.13 354.08,140.88 354.18,140.60 354.27,140.23 354.36,138.99 354.45,137.63 354.55,138.02 354.64,138.97 354.73,137.63 354.82,135.85 354.90,135.05 354.99,135.12 355.08,135.38 355.16,134.18 355.25,133.95 355.33,133.42 355.42,131.79 355.50,132.25 355.58,132.91 355.67,132.04 355.75,131.33 355.83,130.92 355.91,129.98 355.99,128.95 356.06,128.36 356.14,127.52 356.22,126.60 356.30,126.30 356.38,125.00 356.45,123.91 356.53,125.10 356.60,126.16 356.68,124.78 356.75,122.97 356.83,122.27 356.90,121.30 356.98,120.57 357.05,119.16 357.12,117.53 357.20,117.62 357.27,117.22 357.34,115.96 357.41,114.73 357.48,113.99 357.55,114.82 357.62,116.70 357.69,116.98 357.76,115.67 357.83,114.67 357.90,112.45 357.97,110.55 358.03,111.35 358.10,111.65 358.17,110.69 358.23,110.52 358.30,109.84 358.36,107.62 358.43,106.30 358.49,106.68 358.56,106.65 358.62,106.60 358.69,107.68 358.75,107.43 358.81,105.59 358.87,105.16 358.94,105.27 359.00,104.74 359.06,103.63 359.12,102.31 359.18,102.80 359.24,103.48 359.30,101.56 359.36,99.49 359.42,99.77 359.47,100.02 359.53,98.36 359.58,97.42 359.63,97.08 359.68,95.58 359.73,95.08 359.78,94.24 359.82,93.40 359.87,94.25 359.92,93.21 359.96,91.49 360.01,91.41 360.05,89.88 360.09,87.83 360.14,88.23 360.18,89.47 360.22,89.52 360.26,88.56 360.31,87.81 360.35,87.24 360.39,86.88 360.43,86.84 360.48,85.97 360.52,85.11 360.57,84.00 360.61,82.01 360.65,82.12 360.70,83.47 360.75,82.46 360.79,80.89 360.84,80.19 360.89,79.45 360.94,78.72 360.99,78.02 361.05,76.93 361.10,76.41 361.16,76.96 361.21,75.36 361.27,73.34 361.33,73.56 361.40,73.83 361.46,73.01 361.52,72.13 361.59,74.27 361.66,75.36 361.73,72.06 361.81,70.20 361.89,70.06 361.97,68.57 362.07,66.42 362.19,66.34 362.32,67.61 362.45,68.28 362.59,67.97 362.73,66.22 362.87,66.82 363.00,67.71 363.11,64.50 363.21,62.20 363.29,62.49 363.36,62.86 363.42,62.85 363.48,61.46 363.53,60.02 363.58,61.36 363.63,63.24 363.68,60.22 363.72,55.80 363.76,55.48 363.80,56.37 363.84,56.59 363.88,57.12 363.92,57.87 363.96,57.31 364.00,55.71 364.04,54.17 364.08,53.13 364.13,53.37 364.18,53.64 364.24,52.23 364.29,51.12 364.35,51.25 364.41,50.19 364.47,48.27 364.53,46.84 364.59,46.05 364.66,44.28 364.73,43.35 364.80,45.61 364.87,46.22 364.93,45.19 365.00,45.23 365.07,44.62 365.16,41.97 365.26,39.37 365.39,40.18 365.60,42.29 365.90,43.56 366.22,44.32 366.55,43.11 366.75,39.92 366.88,39.40 366.99,42.26 367.09,44.35 367.16,45.10 367.23,45.19 367.28,44.59 367.32,44.56 367.35,46.04 367.38,47.38 367.40,48.60 367.42,49.50 367.45,49.62 367.50,49.78 367.60,49.78 367.78,49.55 368.00,48.30 368.19,46.53 368.34,47.34 368.50,49.30 368.64,49.72 368.79,50.28 368.92,50.45 369.04,49.69 369.16,50.13 369.25,51.69 369.34,53.13 369.43,53.14 369.50,52.20 369.58,52.78 369.65,55.27 369.71,55.82 369.78,54.50 369.85,55.47 369.92,57.08 370.00,57.70 370.08,58.28 370.15,59.99 370.23,61.72 370.30,61.68 370.38,61.65 370.44,61.60 370.51,61.64 370.56,62.63 370.61,62.78 370.65,62.72 370.69,63.73 370.73,65.09 370.76,66.23 370.79,66.23 370.82,66.94 370.85,69.20 370.88,70.53 370.91,70.82 370.94,70.45 370.98,69.73 371.02,69.67 371.07,70.92 371.11,72.48 371.16,71.97 371.21,71.16 371.26,71.71 371.31,72.46 371.36,73.28 371.41,73.22 371.47,73.76 371.52,75.72 371.58,76.00 371.64,76.08 371.70,79.19 371.76,80.64 371.82,79.85 371.88,80.69 371.95,80.47 372.01,80.10 372.07,80.46 372.14,81.34 372.21,83.76 372.27,84.30 372.34,83.39 372.41,83.17 372.47,83.32 372.54,85.19 372.61,86.36 372.68,85.50 372.75,86.36 372.81,88.73 372.88,90.75 372.95,91.18 373.02,89.88 373.09,89.85 373.16,91.13 373.22,91.52 373.29,92.48 373.36,94.88 373.43,96.09 373.49,95.28 373.56,95.05 373.62,94.92 373.69,94.33 373.75,95.05 373.81,97.33 373.88,100.10 373.94,100.45 374.00,99.41 374.06,98.16 374.12,97.85 374.18,101.06 374.23,103.05 374.29,102.42 374.34,103.27 374.40,103.47 374.45,103.03 374.50,105.23 374.55,106.95 374.60,106.46 374.65,106.62 374.70,106.75 374.75,106.24 374.80,107.81 374.85,109.05 374.89,108.94 374.94,109.92 374.99,109.39 375.04,108.59 375.08,109.91 375.13,111.28 375.18,112.00 375.23,112.86 375.28,114.05 375.32,114.52 375.37,114.84 375.42,115.17 375.47,116.32 375.52,118.08 375.57,118.15 375.62,117.24 375.68,117.88 375.73,120.23 375.78,121.07 375.84,120.69 375.90,120.70 375.95,120.33 376.01,120.42 376.07,121.79 376.13,123.60 376.19,124.21 376.26,124.49 376.32,126.04 376.39,127.11 376.46,127.55 376.53,128.04 376.60,127.85 376.67,128.26 376.75,129.25 376.83,130.04 376.91,130.20 376.99,130.51 377.09,131.63 377.19,131.68 377.30,131.22 377.42,131.89 377.54,134.11 377.67,136.19 377.79,136.79 377.92,135.91 378.06,134.49 378.19,134.83 378.32,135.86 378.44,137.13 378.57,138.99 378.69,139.57 378.80,139.76 378.91,140.05 379.01,139.56 379.11,139.53 379.21,140.82 379.31,142.63 379.41,143.83 379.50,144.80 379.59,144.84 379.68,143.78 379.78,144.31 379.87,145.23 379.96,145.15 380.05,146.52 380.14,148.95 380.23,150.31 380.33,150.45 380.42,149.97 380.52,150.44 380.62,151.43 380.71,151.62 380.80,152.64 380.89,153.69 380.98,153.09 381.07,152.98 381.16,154.28 381.26,155.63 381.35,156.25 381.45,156.67 381.55,156.52 381.65,155.70 381.76,156.45 381.87,157.79 381.99,157.68 382.11,157.48 382.24,158.13 382.38,159.35 382.53,160.33 382.69,161.04 382.86,162.98 383.04,164.57 383.22,164.79 383.41,165.37 383.61,165.09 383.81,164.39 384.02,164.79 384.23,165.85 384.44,166.78 384.66,167.51 384.88,169.04 385.09,168.92 385.32,168.14 385.54,170.30 385.76,171.70 385.98,171.35 386.21,171.24 386.44,171.07 386.68,171.37 386.92,172.08 387.16,172.68 387.41,171.89 387.66,172.06 387.92,175.54 388.18,177.69 388.44,177.23 388.71,177.46 388.98,177.81 389.25,178.08 389.53,179.61 389.81,180.18 390.10,179.52 390.38,180.25 390.68,180.60 390.98,180.83 391.28,183.20 391.60,184.02 391.91,183.42 392.24,184.24 392.56,184.39 392.89,184.72 393.23,185.94 393.57,186.12 393.91,186.66 394.26,188.03 394.60,188.65 394.95,187.85 395.30,186.35 395.66,186.86 396.01,188.57 396.37,188.93 396.72,188.98 397.08,189.28 397.44,189.57 397.79,190.67 398.14,191.96 398.50,191.90 398.85,192.06 399.21,193.36 399.58,193.89 399.95,193.46 400.33,193.92 400.73,195.02 401.13,195.91 401.54,196.21 401.97,196.15 402.41,196.46 402.88,196.91 403.38,197.42 403.91,197.42 404.44,197.34 404.99,198.01 405.54,199.45 406.09,200.20 406.64,199.43 407.20,199.63 407.76,199.68 408.33,197.91 408.91,197.29 409.48,198.35 410.05,200.37 410.63,201.99 411.20,201.91 411.78,201.43 412.36,200.11 412.94,198.28 413.51,198.93 414.09,201.17 414.66,201.41 415.22,201.14 415.78,201.59 416.33,201.75 416.88,203.02 417.43,203.64 417.98,202.38 418.53,202.30 419.08,203.08 419.64,203.31 420.20,203.48 420.77,203.61 421.34,204.19 421.92,204.37 422.50,203.80 423.08,203.85 423.66,203.90 424.25,203.55 424.83,204.03 425.41,204.98 425.99,205.16 426.57,205.37 427.15,206.16 427.73,205.69 428.32,205.46 428.90,207.04 429.49,207.55 430.08,206.34 430.67,205.69 431.26,205.91 431.85,205.96 432.45,206.64 433.05,207.65 433.64,207.50 434.24,207.12 434.83,207.12 435.43,207.30 436.02,207.83 436.61,207.83 437.21,207.30 437.80,208.01 438.40,209.05 438.99,208.42 439.59,208.20 440.18,208.83 440.78,207.99 441.37,207.30 441.97,207.63 442.57,207.39 443.16,207.47 443.76,208.01 444.36,207.84 444.96,207.43 445.56,207.39 446.15,208.00 446.75,208.52 447.35,207.99 447.95,208.33 448.55,209.19 449.15,209.06 449.75,209.49 450.35,209.58 450.95,208.30 451.55,207.69 452.15,208.52 452.74,209.32 453.34,209.32 453.94,209.23 454.54,209.72 455.14,209.46 455.74,208.83 456.34,209.23 456.94,209.02 457.54,208.32 458.14,208.92 458.74,210.04 459.34,209.37 459.94,208.07 460.54,208.31 461.14,208.75 461.74,208.59 462.34,208.15 462.94,208.21 463.54,208.78 464.14,208.61 464.74,208.39 465.33,208.41 465.93,208.72 466.53,209.44 467.13,209.38 467.73,208.64 468.33,208.35 468.93,208.98 469.53,209.71 470.13,209.70 470.73,209.39 471.33,209.15 471.93,209.20 472.53,208.93 473.13,208.90 473.73,209.62 474.33,209.32 474.92,209.33 475.52,210.18 476.12,210.06 476.72,209.49 477.32,208.83 477.92,208.62 478.52,209.64 479.12,210.13 479.72,209.89 480.32,209.90 480.92,209.26 481.52,209.15 482.12,209.84 482.72,210.12 483.32,209.98 483.92,209.31 484.52,208.53 485.12,208.18 485.72,208.38 486.32,208.55 486.92,208.90 487.52,209.52 488.12,209.10 488.72,209.36 489.32,210.59 489.92,209.87 490.52,209.42 491.12,210.70 491.72,210.72 492.32,209.32 492.92,208.64 493.52,209.43 494.12,210.37 494.71,210.03 495.31,209.58 495.91,210.24 496.51,210.44 497.11,209.62 497.71,209.19 498.31,209.92 498.91,211.56 499.51,212.12 500.11,211.24 500.71,210.62 501.31,210.00 501.91,209.35 502.51,209.46 503.11,209.23 503.71,208.97 504.31,209.43 504.91,210.07 505.51,210.73 506.11,210.94 506.71,210.39 507.31,210.05 507.91,210.40 508.51,210.78 509.11,210.70 509.71,209.37 510.31,208.39 510.91,209.90 511.51,211.55 512.11,211.16 512.71,210.62 513.31,210.94 513.91,211.02 514.51,210.62 515.11,210.23 515.71,210.32 516.31,210.33 516.91,209.76 517.51,209.61 518.11,210.42 518.71,211.15 519.31,211.16 519.91,210.99 520.51,211.54 521.11,212.06 521.71,211.56 522.31,211.60 522.91,211.80 523.51,211.05 524.11,210.86 524.71,211.53 525.31,211.73 525.91,211.15 526.51,210.69" stroke="#f00" stroke-width="2.3"/>
</g>
<text x="297.8" y="19.7" font-size="13.5" font-weight="bold">b</text>
<text x="366.6" y="18.8" font-size="12.8" stroke="#000">YBCO (<tspan font-style="italic">005</tspan>)</text>
<text transform="translate(346.2,161.9) rotate(-90)" font-size="12.75" fill="#f00" stroke="#f00" stroke-width="0.12">2% BZO-YBCO SL</text>
<text transform="translate(457.4,161.7) rotate(-90)" font-size="12.67" fill="#000" stroke="#000" stroke-width="0.12">2% BZO-YBCO ML</text>
<g font-size="13" text-anchor="middle" stroke="#000" stroke-width="0.15">
<text x="282.2" y="230.9">17</text>
<text x="343.2" y="230.9">18</text>
<text x="404.9" y="230.9">19</text>
<text x="465.4" y="230.9">20</text>
<text x="526.5" y="230.9">21</text>
</g>
<g font-size="12.5" stroke="#000"><text x="393.9" y="250.8" font-style="italic" stroke-width="0.1">θ</text><text x="402.9" y="250.8">(°)</text></g>
<text transform="translate(267.3,142.7) rotate(-90)" font-size="12.6" stroke="#000" stroke-width="0.12">Intensity(a.u)</text>
</svg>
</body></html>
